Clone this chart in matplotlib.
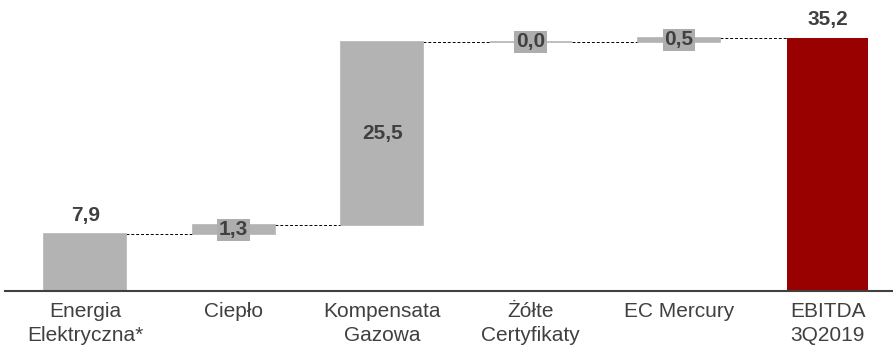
import matplotlib.pyplot as plt
import numpy as np

plt.rcParams['font.family'] = ['Liberation Sans', 'DejaVu Sans']

categories = ["Energia\nElektryczna*", "Ciepło", "Kompensata\nGazowa",
              "Żółte\nCertyfikaty", "EC Mercury", "EBITDA\n3Q2019"]
values = [7.9, 1.3, 25.5, 0.0, 0.5, 35.2]
labels = ["7,9", "1,3", "25,5", "0,0", "0,5", "35,2"]
is_total = [False, False, False, False, False, True]

gray = "#b3b3b3"
red = "#990000"
text_col = "#404040"

# waterfall bottoms
bottoms = []
running = 0.0
for v, tot in zip(values, is_total):
    if tot:
        bottoms.append(0.0)
    else:
        bottoms.append(running)
        running += v

x = np.arange(len(categories))
width = 0.55

fig = plt.figure(figsize=(8.93, 3.47), dpi=100)
ax = fig.add_axes([0.0056, 0.161, 0.9944, 0.839])

for i, (v, b, tot) in enumerate(zip(values, bottoms, is_total)):
    col = red if tot else gray
    ax.bar(x[i], v, bottom=b, width=width, color=col, edgecolor=col,
           linewidth=1.2 if not tot else 0, zorder=2)

# dashed connectors
for i in range(len(values) - 1):
    level = bottoms[i] + values[i]
    ax.plot([x[i] + width / 2, x[i + 1] - width / 2], [level, level],
            color="black", linestyle=(0, (3, 2)), linewidth=0.7, zorder=1)

# value labels
for i, (v, b, tot, lab) in enumerate(zip(values, bottoms, is_total, labels)):
    top = b + v
    if i == 0 or tot:
        ax.text(x[i], top + 1.3, lab, ha="center", va="bottom", fontsize=15,
                fontweight="bold", color=text_col, zorder=3)
    elif v > 5:
        ax.text(x[i], b + v / 2, lab, ha="center", va="center", fontsize=15,
                fontweight="bold", color=text_col, zorder=3)
    else:
        ax.text(x[i], b + v / 2, lab, ha="center", va="center", fontsize=15,
                fontweight="bold", color=text_col, zorder=3,
                bbox=dict(boxstyle="square,pad=0.08", facecolor="#adadad",
                          edgecolor="none"))

ax.set_xlim(-0.54, 5.44)
ax.set_ylim(0, 40.5)
ax.set_xticks(x)
ax.set_xticklabels(categories, fontsize=15, color=text_col, linespacing=1.3)
ax.tick_params(axis="x", length=0, pad=8)
ax.set_yticks([])
for s in ["top", "left", "right"]:
    ax.spines[s].set_visible(False)
ax.spines["bottom"].set_color("#404040")
ax.spines["bottom"].set_linewidth(1.5)
ax.spines["bottom"].set_zorder(4)

fig.savefig("out.png", dpi=100)
